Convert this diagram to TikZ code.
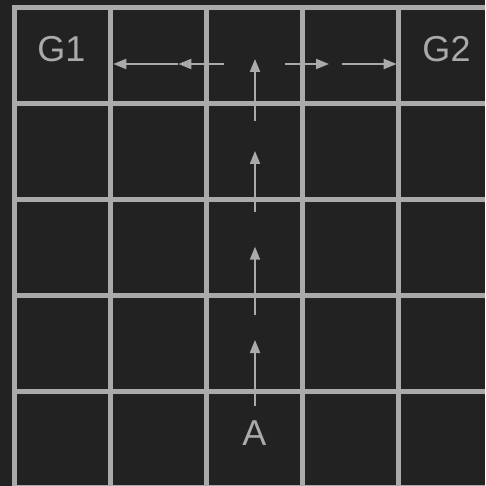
\documentclass[tikz,border=0pt]{standalone}
\usepackage{fontspec}
\setmainfont{Liberation Sans}
\usetikzlibrary{arrows.meta}
\definecolor{bgdark}{HTML}{222222}
\definecolor{gridgrey}{HTML}{AAAAAA}

\begin{document}
\begin{tikzpicture}[
    x=1pt, y=-1pt,
    gridline/.style={draw=gridgrey, line width=5pt, line cap=rect},
    celltext/.style={text=gridgrey, font=\fontsize{36}{40}\selectfont, inner sep=0pt},
    arrow/.style={draw=gridgrey, line width=2pt, -{Triangle[length=13pt, width=10pt]}}
]

% Background
\fill[bgdark] (0,0) rectangle (485,486);
\useasboundingbox (0,0) rectangle (485,486);

% Grid
\begin{scope}
    \clip (0,0) rectangle (485,486);
    \foreach \k in {0,...,5} {
        \draw[gridline] (14.5+96*\k,7.5) -- (14.5+96*\k,487.5);
        \draw[gridline] (14.5,7.5+96*\k) -- (494.5,7.5+96*\k);
    }
\end{scope}

% Nodes
\node[celltext] (g1) at (61.5,49) {G1};
\node[celltext] (g2) at (446.5,49.5) {G2};
\node[celltext] (a) at (254.5,433) {A};

% Path ends
\coordinate (up0) at (255,405.5);
\coordinate (up1) at (255,340);
\coordinate (up2) at (255,315.3);
\coordinate (up3) at (255,246.7);
\coordinate (up4) at (255,212.3);
\coordinate (up5) at (255,151);
\coordinate (up6) at (255,120.7);
\coordinate (up7) at (255,59);

\coordinate (left0) at (224,64);
\coordinate (left1) at (178.3,64);
\coordinate (left2) at (113.3,64);
\coordinate (right0) at (285,64);
\coordinate (right1) at (329,64);
\coordinate (right2) at (341.7,64);
\coordinate (right3) at (396.7,64);

% Arrows
\draw[arrow] (up0) -- (up1);
\draw[arrow] (up2) -- (up3);
\draw[arrow] (up4) -- (up5);
\draw[arrow] (up6) -- (up7);
\draw[arrow] (left0) -- (left1);
\draw[arrow] (left1) -- (left2);
\draw[arrow] (right0) -- (right1);
\draw[arrow] (right2) -- (right3);

\end{tikzpicture}
\end{document}
